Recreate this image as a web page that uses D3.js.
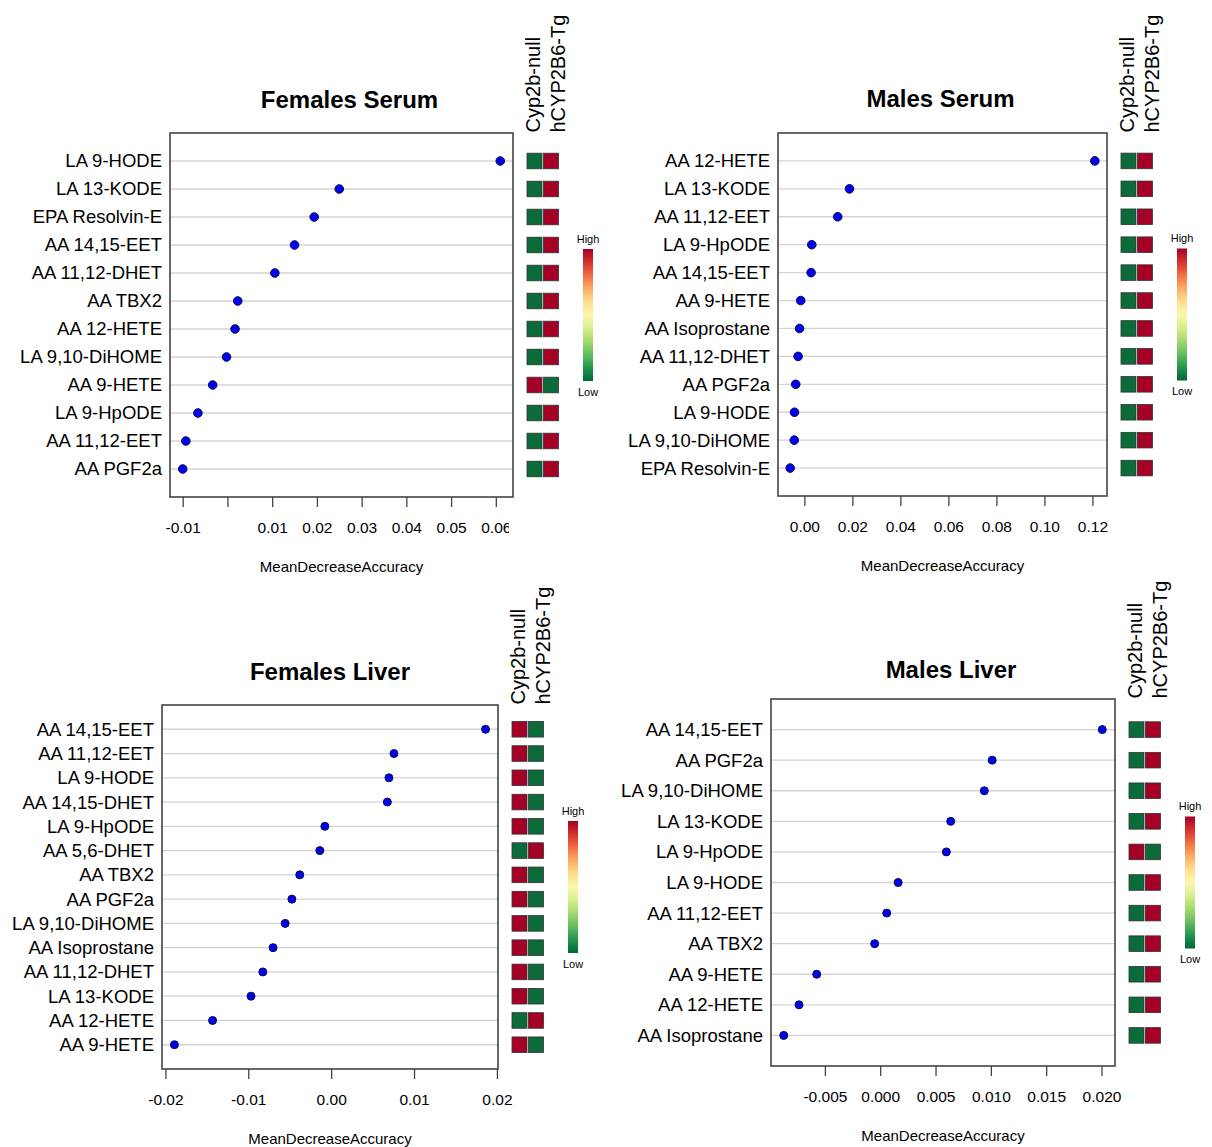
<!DOCTYPE html>
<html>
<head>
<meta charset="utf-8">
<script src="https://cdn.jsdelivr.net/npm/d3@7"></script>
<style>
  body { margin: 0; background: #fff; }
  svg text { font-family: "Liberation Sans", Arial, Helvetica, sans-serif; fill: #000; }
</style>
</head>
<body>
<div id="chart"></div>
<script>
// ---- data (rows listed top to bottom) ----
var fsNames = ["LA 9-HODE", "LA 13-KODE", "EPA Resolvin-E", "AA 14,15-EET", "AA 11,12-DHET", "AA TBX2",
               "AA 12-HETE", "LA 9,10-DiHOME", "AA 9-HETE", "LA 9-HpODE", "AA 11,12-EET", "AA PGF2a"];
var fsValues = [0.0610, 0.0250, 0.0194, 0.0150, 0.0106, 0.0023, 0.0017, -0.0002, -0.0033, -0.0066, -0.0093, -0.0100];
var fsNull = [0, 0, 0, 0, 0, 0, 0, 0, 1, 0, 0, 0];   // 1 = high, 0 = low
var fsTg   = [1, 1, 1, 1, 1, 1, 1, 1, 0, 1, 1, 1];
var fsTicks = [-0.01, 0, 0.01, 0.02, 0.03, 0.04, 0.05, 0.06];
var fsTickLabels = ["-0.01", "", "0.01", "0.02", "0.03", "0.04", "0.05", "0.06"];

var msNames = ["AA 12-HETE", "LA 13-KODE", "AA 11,12-EET", "LA 9-HpODE", "AA 14,15-EET", "AA 9-HETE",
               "AA Isoprostane", "AA 11,12-DHET", "AA PGF2a", "LA 9-HODE", "LA 9,10-DiHOME", "EPA Resolvin-E"];
var msValues = [0.1210, 0.0188, 0.0139, 0.0031, 0.0028, -0.0015, -0.0020, -0.0026, -0.0036, -0.0041, -0.0042, -0.0059];
var msNull = [0, 0, 0, 0, 0, 0, 0, 0, 0, 0, 0, 0];
var msTg   = [1, 1, 1, 1, 1, 1, 1, 1, 1, 1, 1, 1];
var msTicks = [0, 0.02, 0.04, 0.06, 0.08, 0.10, 0.12];
var msTickLabels = ["0.00", "0.02", "0.04", "0.06", "0.08", "0.10", "0.12"];

var flNames = ["AA 14,15-EET", "AA 11,12-EET", "LA 9-HODE", "AA 14,15-DHET", "LA 9-HpODE", "AA 5,6-DHET", "AA TBX2",
               "AA PGF2a", "LA 9,10-DiHOME", "AA Isoprostane", "AA 11,12-DHET", "LA 13-KODE", "AA 12-HETE", "AA 9-HETE"];
var flValues = [0.01863, 0.00758, 0.00697, 0.00678, -0.00076, -0.00137, -0.00379,
                -0.00474, -0.00555, -0.00701, -0.00825, -0.00967, -0.01431, -0.01891];
var flNull = [1, 1, 1, 1, 1, 0, 1, 1, 1, 1, 1, 1, 0, 1];
var flTg   = [0, 0, 0, 0, 0, 1, 0, 0, 0, 0, 0, 0, 1, 0];
var flTicks = [-0.02, -0.01, 0, 0.01, 0.02];
var flTickLabels = ["-0.02", "-0.01", "0.00", "0.01", "0.02"];

var mlNames = ["AA 14,15-EET", "AA PGF2a", "LA 9,10-DiHOME", "LA 13-KODE", "LA 9-HpODE", "LA 9-HODE",
               "AA 11,12-EET", "AA TBX2", "AA 9-HETE", "AA 12-HETE", "AA Isoprostane"];
var mlValues = [0.02007, 0.01012, 0.00941, 0.00637, 0.00598, 0.00162, 0.00059, -0.00050, -0.00574, -0.00734, -0.00872];
var mlNull = [0, 0, 0, 0, 1, 0, 0, 0, 0, 0, 0];
var mlTg   = [1, 1, 1, 1, 0, 1, 1, 1, 1, 1, 1];
var mlTicks = [-0.005, 0, 0.005, 0.010, 0.015, 0.020];
var mlTickLabels = ["-0.005", "0.000", "0.005", "0.010", "0.015", "0.020"];

var groupLabels = ["Cyp2b-null", "hCYP2B6-Tg"];

// ---- layout ----
var W = 1212, H = 1147;
var svg = d3.select("#chart").append("svg").attr("width", W).attr("height", H);

var grad = svg.append("defs").append("linearGradient")
    .attr("id", "rdylgn").attr("x1", 0).attr("y1", 0).attr("x2", 0).attr("y2", 1);
d3.range(0, 1.001, 0.1).forEach(function(t) {
  grad.append("stop").attr("offset", t).attr("stop-color", d3.interpolateRdYlGn(t));
});

var hiColor = "#a50026", loColor = "#0b6b3a";

function drawPanel(p) {
  var n = p.names.length;
  var ext = d3.extent(p.values), pad = (ext[1] - ext[0]) * 0.04;
  var x = d3.scaleLinear().domain([ext[0] - pad, ext[1] + pad]).range([p.left, p.right]);
  var y = d3.scaleLinear().domain([0, n + 1]).range([p.bottom, p.top]);
  var rowY = function(i) { return y(n - i); };
  var g = svg.append("g");

  // grid lines
  g.selectAll(".grid").data(p.names).enter().append("line")
    .attr("x1", p.left).attr("x2", p.right)
    .attr("y1", function(d, i) { return rowY(i); })
    .attr("y2", function(d, i) { return rowY(i); })
    .attr("stroke", "#d4d4d4").attr("stroke-width", 1.3);

  // box
  g.append("rect").attr("x", p.left).attr("y", p.top)
    .attr("width", p.right - p.left).attr("height", p.bottom - p.top)
    .attr("fill", "none").attr("stroke", "#444").attr("stroke-width", 1.6);

  // row labels
  g.selectAll(".lab").data(p.names).enter().append("text")
    .attr("x", p.left - 8).attr("y", function(d, i) { return rowY(i); })
    .attr("dy", "0.35em").attr("text-anchor", "end")
    .style("font-size", "18.5px").text(function(d) { return d; });

  // dots
  g.selectAll(".dot").data(p.values).enter().append("circle")
    .attr("cx", function(d) { return x(d); })
    .attr("cy", function(d, i) { return rowY(i); })
    .attr("r", p.r).attr("fill", "#0000f0").attr("stroke", "#0a0a50").attr("stroke-width", 1);

  // x axis
  var clipId = "clip" + p.id;
  svg.append("clipPath").attr("id", clipId).append("rect")
    .attr("x", 0).attr("y", -2).attr("width", p.clipRight || W).attr("height", 60);
  var axis = d3.axisBottom(x).tickValues(p.ticks).tickSize(10).tickSizeOuter(0)
    .tickFormat(function(d, i) { return p.tickLabels[i]; });
  var ax = g.append("g").attr("transform", "translate(0," + p.bottom + ")")
    .attr("clip-path", "url(#" + clipId + ")").call(axis);
  ax.select(".domain").remove();
  ax.selectAll(".tick line").attr("stroke", "#444").attr("stroke-width", 1.3);
  ax.selectAll(".tick text").attr("y", 31).attr("dy", "0.35em").attr("fill", "#000")
    .style("font-size", "15.5px").style("font-family", "'Liberation Sans', Arial, sans-serif");

  g.append("text").attr("x", (p.left + p.right) / 2).attr("y", p.bottom + 70).attr("dy", "0.35em")
    .attr("text-anchor", "middle").style("font-size", "15px").text("MeanDecreaseAccuracy");

  // title
  g.append("text").attr("x", (p.left + p.right) / 2 + p.titleShift).attr("y", p.titleY)
    .attr("text-anchor", "middle").style("font-size", "24px").style("font-weight", "bold").text(p.title);

  // heat squares
  [p.nul, p.tg].forEach(function(col, c) {
    g.selectAll(".hm" + c).data(col).enter().append("rect")
      .attr("x", p.right + 14 + c * 16.5).attr("width", 15)
      .attr("y", function(d, i) { return rowY(i) - 7.8; }).attr("height", 15.6)
      .attr("fill", function(d) { return d ? hiColor : loColor; })
      .attr("stroke", "#333").attr("stroke-width", 0.8);
  });

  // group labels (rotated)
  groupLabels.forEach(function(t, c) {
    var bx = p.right + 27 + c * 25;
    g.append("text").attr("transform", "translate(" + bx + "," + (p.top - 0.5) + ") rotate(-90)")
      .attr("text-anchor", "start").style("font-size", "20px").text(t);
  });

  // colour key
  var mid = (p.top + p.bottom) / 2, bx0 = p.right + 70;
  g.append("rect").attr("x", bx0).attr("y", mid - 66).attr("width", 10).attr("height", 132)
    .attr("fill", "url(#rdylgn)");
  g.append("text").attr("x", bx0 + 5).attr("y", mid - 76).attr("dy", "0.35em").attr("text-anchor", "middle")
    .style("font-size", "11px").text("High");
  g.append("text").attr("x", bx0 + 5).attr("y", mid + 77).attr("dy", "0.35em").attr("text-anchor", "middle")
    .style("font-size", "11px").text("Low");
}

drawPanel({ id: 1, title: "Females Serum", names: fsNames, values: fsValues, nul: fsNull, tg: fsTg,
  ticks: fsTicks, tickLabels: fsTickLabels, left: 170, right: 513, top: 133, bottom: 497,
  titleY: 108, titleShift: 8, r: 4.3, clipRight: 509 });
drawPanel({ id: 2, title: "Males Serum", names: msNames, values: msValues, nul: msNull, tg: msTg,
  ticks: msTicks, tickLabels: msTickLabels, left: 778, right: 1107, top: 133, bottom: 496,
  titleY: 107, titleShift: -2, r: 4.3 });
drawPanel({ id: 3, title: "Females Liver", names: flNames, values: flValues, nul: flNull, tg: flTg,
  ticks: flTicks, tickLabels: flTickLabels, left: 162, right: 498, top: 705, bottom: 1069,
  titleY: 680, titleShift: 0, r: 4 });
drawPanel({ id: 4, title: "Males Liver", names: mlNames, values: mlValues, nul: mlNull, tg: mlTg,
  ticks: mlTicks, tickLabels: mlTickLabels, left: 771, right: 1115, top: 699, bottom: 1066,
  titleY: 678, titleShift: 8, r: 4 });
</script>
</body>
</html>
